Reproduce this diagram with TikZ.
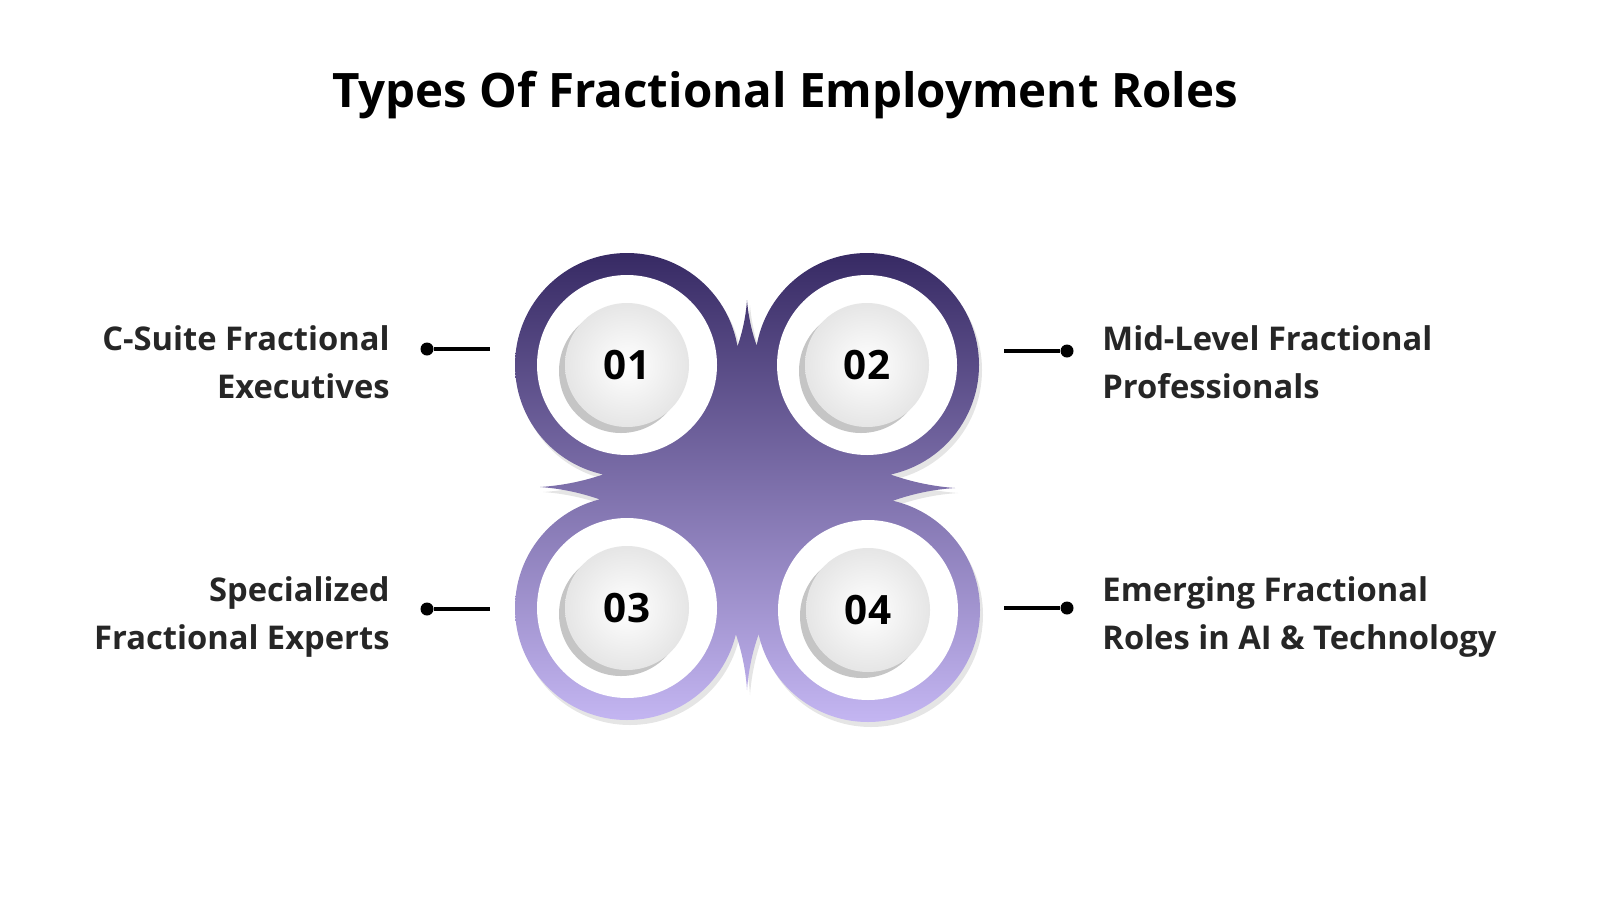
\documentclass[tikz,border=0pt]{standalone}
\usepackage{fontspec}
\setmainfont{Open Sans}
\usetikzlibrary{shadows}
\begin{document}
\begin{tikzpicture}[x=0.01cm,y=-0.01cm,
 lbl/.style={font=\fontsize{9.3}{13.5}\selectfont\bfseries,text=black!85},
 dot/.style={circle,fill=black,inner sep=0pt,minimum size=0.13cm},
 conn/.style={line width=0.9pt}]
\useasboundingbox[fill=white] (0,0) rectangle (1600,900);
\node[font=\fontsize{13.5}{17}\selectfont\bfseries] (title) at (785,95) {Types Of Fractional Employment Roles};
\shade[nonzero rule,top color={rgb,255:red,55;green,42;blue,100},bottom color={rgb,255:red,196;green,182;blue,242},drop shadow={opacity=0.2,shadow xshift=0.03cm,shadow yshift=-0.05cm}]
 (627,365) circle (112) (867,365) circle (112) (627,608) circle (112) (868,610) circle (112)
 (540,487) .. controls (650,480) and (740,400) .. (747,300) .. controls (755,400) and (845,480) .. (955,488) .. controls (845,495) and (755,580) .. (747,690) .. controls (740,580) and (650,495) .. (540,487) -- cycle;
\foreach \p/\t in {{(627,365)}/01,{(867,365)}/02,{(627,608)}/03,{(868,610)}/04}{
 \fill[white] \p circle (90);
 \shade[inner color=white,outer color=black!10,drop shadow={opacity=0.45,shadow xshift=-0.06cm,shadow yshift=-0.06cm}] \p circle (62);
 \node[font=\fontsize{11.5}{14}\selectfont\bfseries] at \p {\t};
}
\node[lbl,align=right,anchor=east] (l1) at (402,362) {C-Suite Fractional\\Executives};
\node[lbl,align=right,anchor=east] (l3) at (402,617) {Specialized\\Fractional Experts};
\node[lbl,align=left,anchor=west] (l2) at (1090,362) {Mid-Level Fractional\\Professionals};
\node[lbl,align=left,anchor=west] (l4) at (1090,617) {Emerging Fractional\\Roles in AI \& Technology};
\node[dot] (d1) at (427,349) {}; \coordinate (e1) at (490,349);
\node[dot] (d3) at (427,609) {}; \coordinate (e3) at (490,609);
\node[dot] (d2) at (1067,351) {}; \coordinate (e2) at (1004,351);
\node[dot] (d4) at (1067,608) {}; \coordinate (e4) at (1004,608);
\draw[conn] (d1)--(e1); \draw[conn] (d3)--(e3); \draw[conn] (d2)--(e2); \draw[conn] (d4)--(e4);
\end{tikzpicture}
\end{document}
